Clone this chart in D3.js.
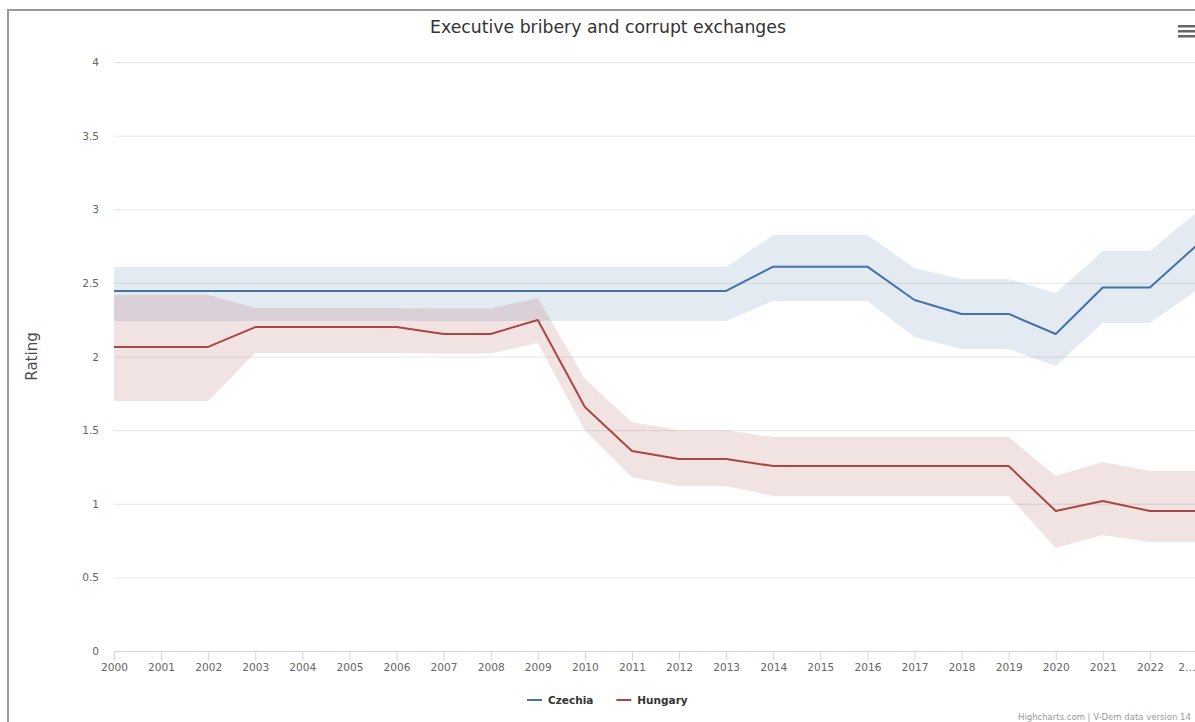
<!DOCTYPE html>
<html lang="en">
<head>
    <meta charset="UTF-8">
    <title>Executive bribery and corrupt exchanges</title>
    <style>
        html, body { margin: 0; padding: 0; background: #fff; overflow: hidden; }
        svg { display: block; font-family: "DejaVu Sans", sans-serif; }
    </style>
</head>
<body>
    <script src="https://d3js.org/d3.v7.min.js"></script>
    <script>
        // Data
        const years = ["2000", "2001", "2002", "2003", "2004", "2005", "2006", "2007", "2008", "2009", "2010", "2011",
            "2012", "2013", "2014", "2015", "2016", "2017", "2018", "2019", "2020", "2021", "2022", "2023"];
        const xLabels = ["2000", "2001", "2002", "2003", "2004", "2005", "2006", "2007", "2008", "2009", "2010", "2011",
            "2012", "2013", "2014", "2015", "2016", "2017", "2018", "2019", "2020", "2021", "2022", "2\u2026"];
        const yTicks = [0, 0.5, 1, 1.5, 2, 2.5, 3, 3.5, 4];

        const czechia = [2.445, 2.445, 2.445, 2.445, 2.445, 2.445, 2.445, 2.445, 2.445, 2.445, 2.445, 2.445,
            2.445, 2.445, 2.61, 2.61, 2.61, 2.384, 2.289, 2.289, 2.153, 2.468, 2.468, 2.757];
        const czechiaHigh = [2.608, 2.608, 2.608, 2.608, 2.608, 2.608, 2.608, 2.608, 2.608, 2.608, 2.608, 2.608,
            2.608, 2.608, 2.825, 2.825, 2.825, 2.60, 2.526, 2.526, 2.431, 2.716, 2.716, 2.981];
        const czechiaLow = [2.241, 2.241, 2.241, 2.241, 2.241, 2.241, 2.241, 2.241, 2.241, 2.241, 2.241, 2.241,
            2.241, 2.241, 2.377, 2.377, 2.377, 2.132, 2.051, 2.051, 1.935, 2.228, 2.228, 2.452];

        const hungary = [2.065, 2.065, 2.065, 2.20, 2.20, 2.20, 2.20, 2.153, 2.153, 2.248, 1.657, 1.358,
            1.304, 1.304, 1.256, 1.256, 1.256, 1.256, 1.256, 1.256, 0.951, 1.019, 0.951, 0.951];
        const hungaryHigh = [2.418, 2.418, 2.418, 2.33, 2.33, 2.33, 2.33, 2.326, 2.326, 2.397, 1.847, 1.555,
            1.50, 1.50, 1.453, 1.453, 1.453, 1.453, 1.453, 1.453, 1.188, 1.283, 1.222, 1.222];
        const hungaryLow = [1.698, 1.698, 1.698, 2.024, 2.024, 2.024, 2.024, 2.02, 2.02, 2.092, 1.50, 1.18,
            1.12, 1.12, 1.053, 1.053, 1.053, 1.053, 1.053, 1.053, 0.70, 0.788, 0.74, 0.74];

        const series = [
            { name: "Czechia", color: "#4572A7", values: czechia, low: czechiaLow, high: czechiaHigh },
            { name: "Hungary", color: "#AA4643", values: hungary, low: hungaryLow, high: hungaryHigh }
        ];

        // Dimensions
        const width = 1195, height = 722;
        const plotLeft = 114, plotRight = 1197, plotTop = 62, plotBottom = 651;

        const svg = d3.select("body").append("svg")
            .attr("width", width)
            .attr("height", height);

        // container border (chart is cut off right and bottom)
        svg.append("path")
            .attr("d", "M8," + height + "V10H" + width)
            .attr("fill", "none")
            .attr("stroke", "#999")
            .attr("stroke-width", 2);

        const x = d3.scalePoint().domain(years).range([plotLeft, plotRight]);
        const y = d3.scaleLinear().domain([0, 4]).range([plotBottom, plotTop]);

        // grid lines
        svg.append("g")
            .selectAll("line")
            .data(yTicks.filter(d => d > 0))
            .enter().append("line")
            .attr("x1", plotLeft).attr("x2", width)
            .attr("y1", d => y(d) + 0.5).attr("y2", d => y(d) + 0.5)
            .attr("stroke", "#e6e6e6");

        // y labels
        svg.append("g")
            .selectAll("text")
            .data(yTicks)
            .enter().append("text")
            .attr("x", 99)
            .attr("y", d => y(d) + 4)
            .attr("text-anchor", "end")
            .attr("font-size", "10.6px")
            .attr("fill", "#666")
            .text(d => d);

        // y title
        svg.append("text")
            .attr("transform", "translate(37," + (plotTop + plotBottom) / 2 + ") rotate(-90)")
            .attr("text-anchor", "middle")
            .attr("font-size", "15px")
            .attr("fill", "#4d4d4d")
            .text("Rating");

        // ranges and lines
        const area = d3.area()
            .x((d, i) => x(years[i]))
            .y0(d => y(d[0]))
            .y1(d => y(d[1]));
        const line = d3.line()
            .x((d, i) => x(years[i]))
            .y(d => y(d));

        series.forEach(s => {
            svg.append("path")
                .datum(s.low.map((v, i) => [v, s.high[i]]))
                .attr("fill", s.color)
                .attr("fill-opacity", 0.15)
                .attr("d", area);
        });
        series.forEach(s => {
            svg.append("path")
                .datum(s.values)
                .attr("fill", "none")
                .attr("stroke", s.color)
                .attr("stroke-width", 2)
                .attr("stroke-linejoin", "round")
                .attr("d", line);
        });

        // x axis
        const xAxis = svg.append("g")
            .attr("transform", "translate(0," + (plotBottom + 0.5) + ")")
            .call(d3.axisBottom(x).tickSize(9).tickSizeOuter(0).tickPadding(3)
                .tickFormat((d, i) => xLabels[i]));
        xAxis.select(".domain").attr("stroke", "#ccd6eb").attr("d", "M" + plotLeft + ",0H" + width);
        xAxis.selectAll(".tick line").attr("stroke", "#ccd6eb");
        xAxis.selectAll(".tick text")
            .attr("font-family", "DejaVu Sans, sans-serif")
            .attr("font-size", "10.6px")
            .attr("fill", "#666");
        xAxis.select(".tick:last-of-type text").attr("text-anchor", "end").attr("x", -2);

        // title
        svg.append("text")
            .attr("x", 608)
            .attr("y", 33)
            .attr("text-anchor", "middle")
            .attr("font-size", "17.3px")
            .attr("fill", "#333")
            .text("Executive bribery and corrupt exchanges");

        // menu icon
        svg.append("g")
            .selectAll("rect")
            .data([0, 5, 10])
            .enter().append("rect")
            .attr("x", 1178).attr("y", d => 25 + d)
            .attr("width", 17).attr("height", 2.5)
            .attr("fill", "#666");

        // legend
        const legend = svg.append("g").attr("transform", "translate(527,700)");
        let lx = 0;
        series.forEach(s => {
            const g = legend.append("g").attr("transform", "translate(" + lx + ",0)");
            g.append("line").attr("x1", 0).attr("x2", 15)
                .attr("stroke", s.color).attr("stroke-width", 2);
            const t = g.append("text")
                .attr("x", 21).attr("y", 4)
                .attr("font-size", "10.5px")
                .attr("font-weight", "bold")
                .attr("fill", "#333")
                .text(s.name);
            lx += 21 + t.node().getComputedTextLength() + 23;
        });

        // credits (chart is clipped at the bottom in the reference)
        svg.append("text")
            .attr("x", 1018)
            .attr("y", 720)
            .attr("font-size", "8.5px")
            .attr("fill", "#999")
            .text("Highcharts.com | V-Dem data version 14");
    </script>
</body>
</html>
